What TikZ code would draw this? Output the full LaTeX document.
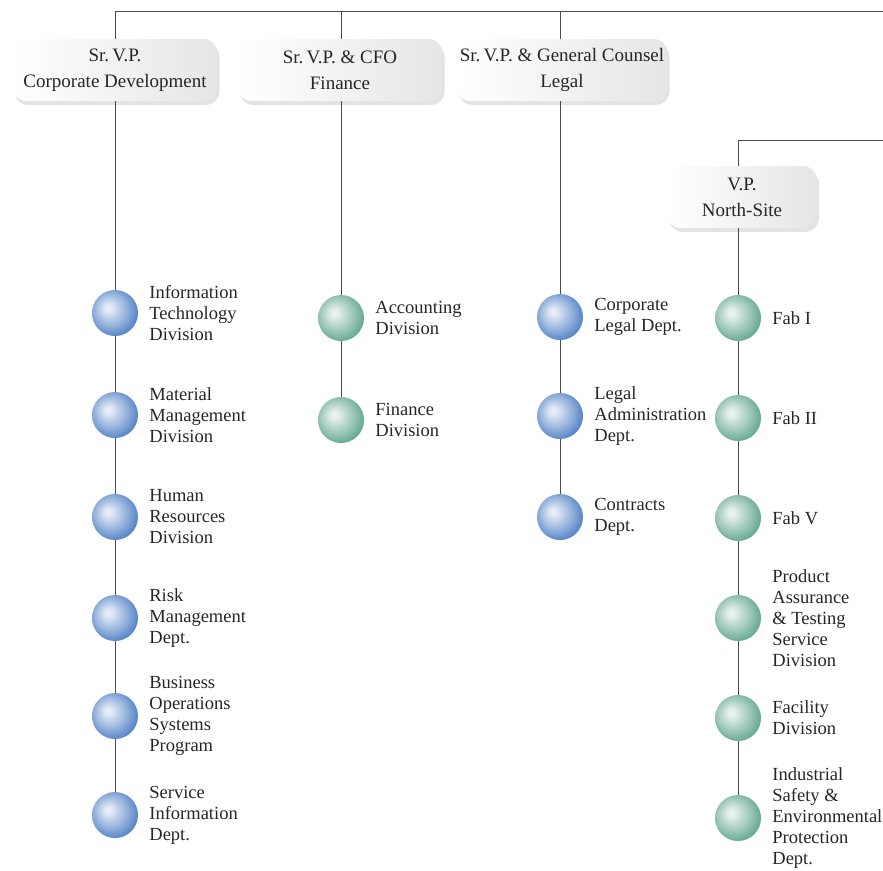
\documentclass[tikz,border=0pt]{standalone}
\usepackage{fontspec}
\setmainfont{Liberation Serif}
\usetikzlibrary{positioning,shadows}

\definecolor{sphblue}{RGB}{88,134,200}
\definecolor{sphgreen}{RGB}{104,170,146}
\definecolor{rule}{RGB}{75,75,75}

\pgfdeclareradialshading{bluesph}{\pgfpoint{-8bp}{6bp}}{color(0bp)=(sphblue!10!white); color(5bp)=(sphblue!22!white); color(18bp)=(sphblue!65!white); color(28bp)=(sphblue); color(50bp)=(sphblue!80!black)}
\pgfdeclareradialshading{greensph}{\pgfpoint{-8bp}{6bp}}{color(0bp)=(sphgreen!10!white); color(5bp)=(sphgreen!22!white); color(18bp)=(sphgreen!65!white); color(28bp)=(sphgreen); color(50bp)=(sphgreen!80!black)}

\begin{document}
\begin{tikzpicture}[
	x=1pt, y=-1pt
	,vp/.style={rounded corners=14pt, minimum width=205pt, minimum height=62pt, left color=white, right color=black!10, align=center, text=black!85, font=\fontsize{19}{26}\selectfont, drop shadow={shadow xshift=2pt, shadow yshift=-4pt, opacity=.22}}
	,bb/.style={circle, inner sep=0pt, minimum size=46pt, shading=bluesph}
	,gb/.style={circle, inner sep=0pt, minimum size=46pt, shading=greensph}
	,lbl/.style={right=11pt of #1, inner sep=0pt, align=left, text=black!85, font=\fontsize{18.5}{21}\selectfont}
	,link/.style={draw=rule, line width=.8pt}
]
	\useasboundingbox (0,0) rectangle (883,870);

	\coordinate (R1) at (883,11);
	\coordinate (R2) at (883,140);

	% heads
	\node[vp] (vp1) at (115,70) {Sr.\,V.P.\\Corporate Development};
	\node[vp] (vp2) at (340,70) {Sr.\,V.P. \& CFO\\Finance};
	\node[vp] (vp3) at (562,70) {Sr.\,V.P. \& General Counsel\\Legal};
	\node[vp, minimum width=150pt] (vp4) at (742,197) {V.P.\\North-Site};

	% corporate development
	\node[bb] (cd1) at (115,313) {};
	\node[bb] (cd2) at (115,415) {};
	\node[bb] (cd3) at (115,517) {};
	\node[bb] (cd4) at (115,618) {};
	\node[bb] (cd5) at (115,716) {};
	\node[bb] (cd6) at (115,815) {};
	\node[lbl=cd1] (cd1t) {Information\\Technology\\Division};
	\node[lbl=cd2] (cd2t) {Material\\Management\\Division};
	\node[lbl=cd3] (cd3t) {Human\\Resources\\Division};
	\node[lbl=cd4] (cd4t) {Risk\\Management\\Dept.};
	\node[lbl=cd5] (cd5t) {Business\\Operations\\Systems\\Program};
	\node[lbl=cd6] (cd6t) {Service\\Information\\Dept.};

	% finance
	\node[gb] (fi1) at (341,318) {};
	\node[gb] (fi2) at (341,420) {};
	\node[lbl=fi1] (fi1t) {Accounting\\Division};
	\node[lbl=fi2] (fi2t) {Finance\\Division};

	% legal
	\node[bb] (lg1) at (560,317) {};
	\node[bb] (lg2) at (560,416) {};
	\node[bb] (lg3) at (560,517) {};
	\node[lbl=lg1] (lg1t) {Corporate\\Legal Dept.};
	\node[lbl=lg2] (lg2t) {Legal\\Administration\\Dept.};
	\node[lbl=lg3] (lg3t) {Contracts\\Dept.};

	% north-site
	\node[gb] (ns1) at (738,318) {};
	\node[gb] (ns2) at (738,418) {};
	\node[gb] (ns3) at (738,518) {};
	\node[gb] (ns4) at (738,618) {};
	\node[gb] (ns5) at (738,718) {};
	\node[gb] (ns6) at (738,818) {};
	\node[lbl=ns1] (ns1t) {Fab I};
	\node[lbl=ns2] (ns2t) {Fab II};
	\node[lbl=ns3] (ns3t) {Fab V};
	\node[lbl=ns4] (ns4t) {Product\\Assurance\\\& Testing\\Service\\Division};
	\node[lbl=ns5] (ns5t) {Facility\\Division};
	\node[lbl=ns6] (ns6t) {Industrial\\Safety \&\\Environmental\\Protection\\Dept.};

	\draw[link] (vp1) |- (R1);
	\draw[link] (vp2.north -| fi1) -- (fi1 |- R1);
	\draw[link] (vp3.north -| lg1) -- (lg1 |- R1);
	\draw[link] (vp4.north -| ns1) |- (R2);

	\draw[link] (vp1) -- (cd1);
	\draw[link] (cd1) -- (cd2);
	\draw[link] (cd2) -- (cd3);
	\draw[link] (cd3) -- (cd4);
	\draw[link] (cd4) -- (cd5);
	\draw[link] (cd5) -- (cd6);

	\draw[link] (vp2.south -| fi1) -- (fi1);
	\draw[link] (fi1) -- (fi2);

	\draw[link] (vp3.south -| lg1) -- (lg1);
	\draw[link] (lg1) -- (lg2);
	\draw[link] (lg2) -- (lg3);

	\draw[link] (vp4.south -| ns1) -- (ns1);
	\draw[link] (ns1) -- (ns2);
	\draw[link] (ns2) -- (ns3);
	\draw[link] (ns3) -- (ns4);
	\draw[link] (ns4) -- (ns5);
	\draw[link] (ns5) -- (ns6);
\end{tikzpicture}
\end{document}
